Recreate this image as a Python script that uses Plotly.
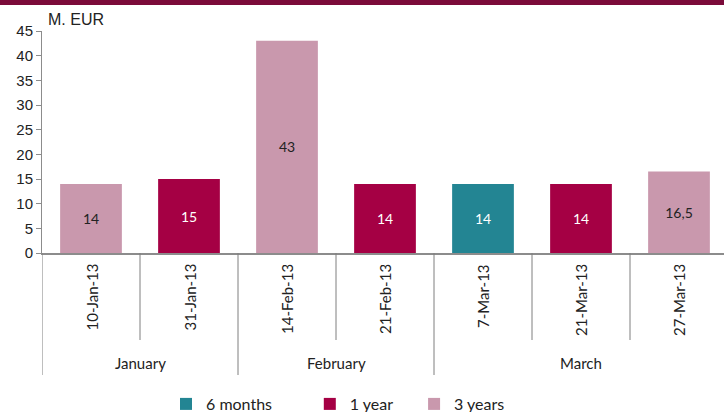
import plotly.graph_objects as go

dates = ["10-Jan-13", "31-Jan-13", "14-Feb-13", "21-Feb-13", "7-Mar-13", "21-Mar-13", "27-Mar-13"]
months = ["January", "January", "February", "February", "March", "March", "March"]
maturity = ["3 years", "1 year", "3 years", "1 year", "6 months", "1 year", "3 years"]
amounts = [14, 15, 43, 14, 14, 14, 16.5]

series_order = ["6 months", "1 year", "3 years"]
colors = {"6 months": "#238593", "1 year": "#A50044", "3 years": "#C998AD"}
label_colors = {"6 months": "white", "1 year": "white", "3 years": "#222222"}
legend_pad = {"6 months": 8, "1 year": 4, "3 years": 0}

W, H = 724, 412
ml, mr, mt, mb = 42, 0, 31, 159
ph = H - mt - mb
cat_px = 98  # width of one category slot in the reference

def py(pix):
    # pixel row -> paper y
    return (H - mb - pix) / ph

fig = go.Figure()
for s in series_order:
    xs = [d for d, m in zip(dates, maturity) if m == s]
    ys = [a for a, m in zip(amounts, maturity) if m == s]
    fig.add_bar(
        x=xs, y=ys, name=s + "\u00a0" * legend_pad[s],
        marker=dict(color=colors[s], line=dict(width=0)),
        texttemplate="%{y}", textposition="inside", insidetextanchor="middle",
        textangle=0,
        textfont=dict(family="Lato", size=14, color=label_colors[s]),
        cliponaxis=False,
    )

shapes = [dict(type="rect", xref="paper", yref="paper", x0=-0.1, x1=1.1,
               y0=py(5), y1=py(-5), fillcolor="#7B0B3A", line=dict(width=0), layer="above")]

# divider lines below the axis
for i in range(len(dates)):
    long_line = i == 0 or months[i] != months[i - 1]
    shapes.append(dict(type="line", xref="x", yref="paper", x0=i - 0.5, x1=i - 0.5,
                       y0=0, y1=py(375 if long_line else 340),
                       line=dict(color="#7f7f7f", width=1)))

annotations = []
for d in dates:
    annotations.append(dict(x=d, y=py(262), xref="x", yref="paper", text=d, textangle=-90,
                            showarrow=False, xanchor="center", yanchor="top",
                            font=dict(family="Lato", size=15, color="#222222")))

seen = []
for m in months:
    if m not in seen:
        seen.append(m)
for m in seen:
    idx = [i for i, mm in enumerate(months) if mm == m]
    c = sum(idx) / len(idx)
    annotations.append(dict(x=c, y=py(363), xref="x", yref="paper", text=m, showarrow=False,
                            xanchor="center", yanchor="middle",
                            font=dict(family="Lato", size=15, color="#222222")))

annotations.append(dict(x=0, y=py(19), xref="paper", yref="paper", text="M. EUR", showarrow=False,
                        xanchor="left", yanchor="middle", xshift=4,
                        font=dict(family="Liberation Sans", size=16, color="#222222")))

fig.update_layout(
    width=W, height=H,
    margin=dict(l=ml, r=mr, t=mt, b=mb, autoexpand=False),
    paper_bgcolor="white", plot_bgcolor="white",
    barmode="overlay", bargap=0.37,
    separators=",.",
    showlegend=True,
    legend=dict(orientation="h", x=(166 - ml) / (W - ml - mr), xanchor="left",
                yref="container", y=(H - 404) / H, yanchor="middle",
                font=dict(family="Lato", size=16, color="#222222"), itemwidth=30,
                traceorder="normal"),
    shapes=shapes, annotations=annotations,
    font=dict(family="Liberation Sans"),
)
fig.update_xaxes(type="category", categoryorder="array", categoryarray=dates,
                 range=[-0.5, -0.5 + (W - ml - mr) / cat_px], automargin=False,
                 showticklabels=False, showline=True, linecolor="#8c8c8c", linewidth=2,
                 ticks="", showgrid=False, zeroline=False)
fig.update_yaxes(range=[0, 45], dtick=5, showline=True, linecolor="#8c8c8c", linewidth=1,
                 ticks="outside", ticklen=5, tickcolor="#8c8c8c", showgrid=False, zeroline=False,
                 automargin=False,
                 tickfont=dict(family="Liberation Sans", size=15, color="#222222"))

# page body has an 8px default margin; drop it so the figure fills the window
fig.write_html("out.html", config={"displayModeBar": False},
               post_script="document.body.style.margin='0';")
